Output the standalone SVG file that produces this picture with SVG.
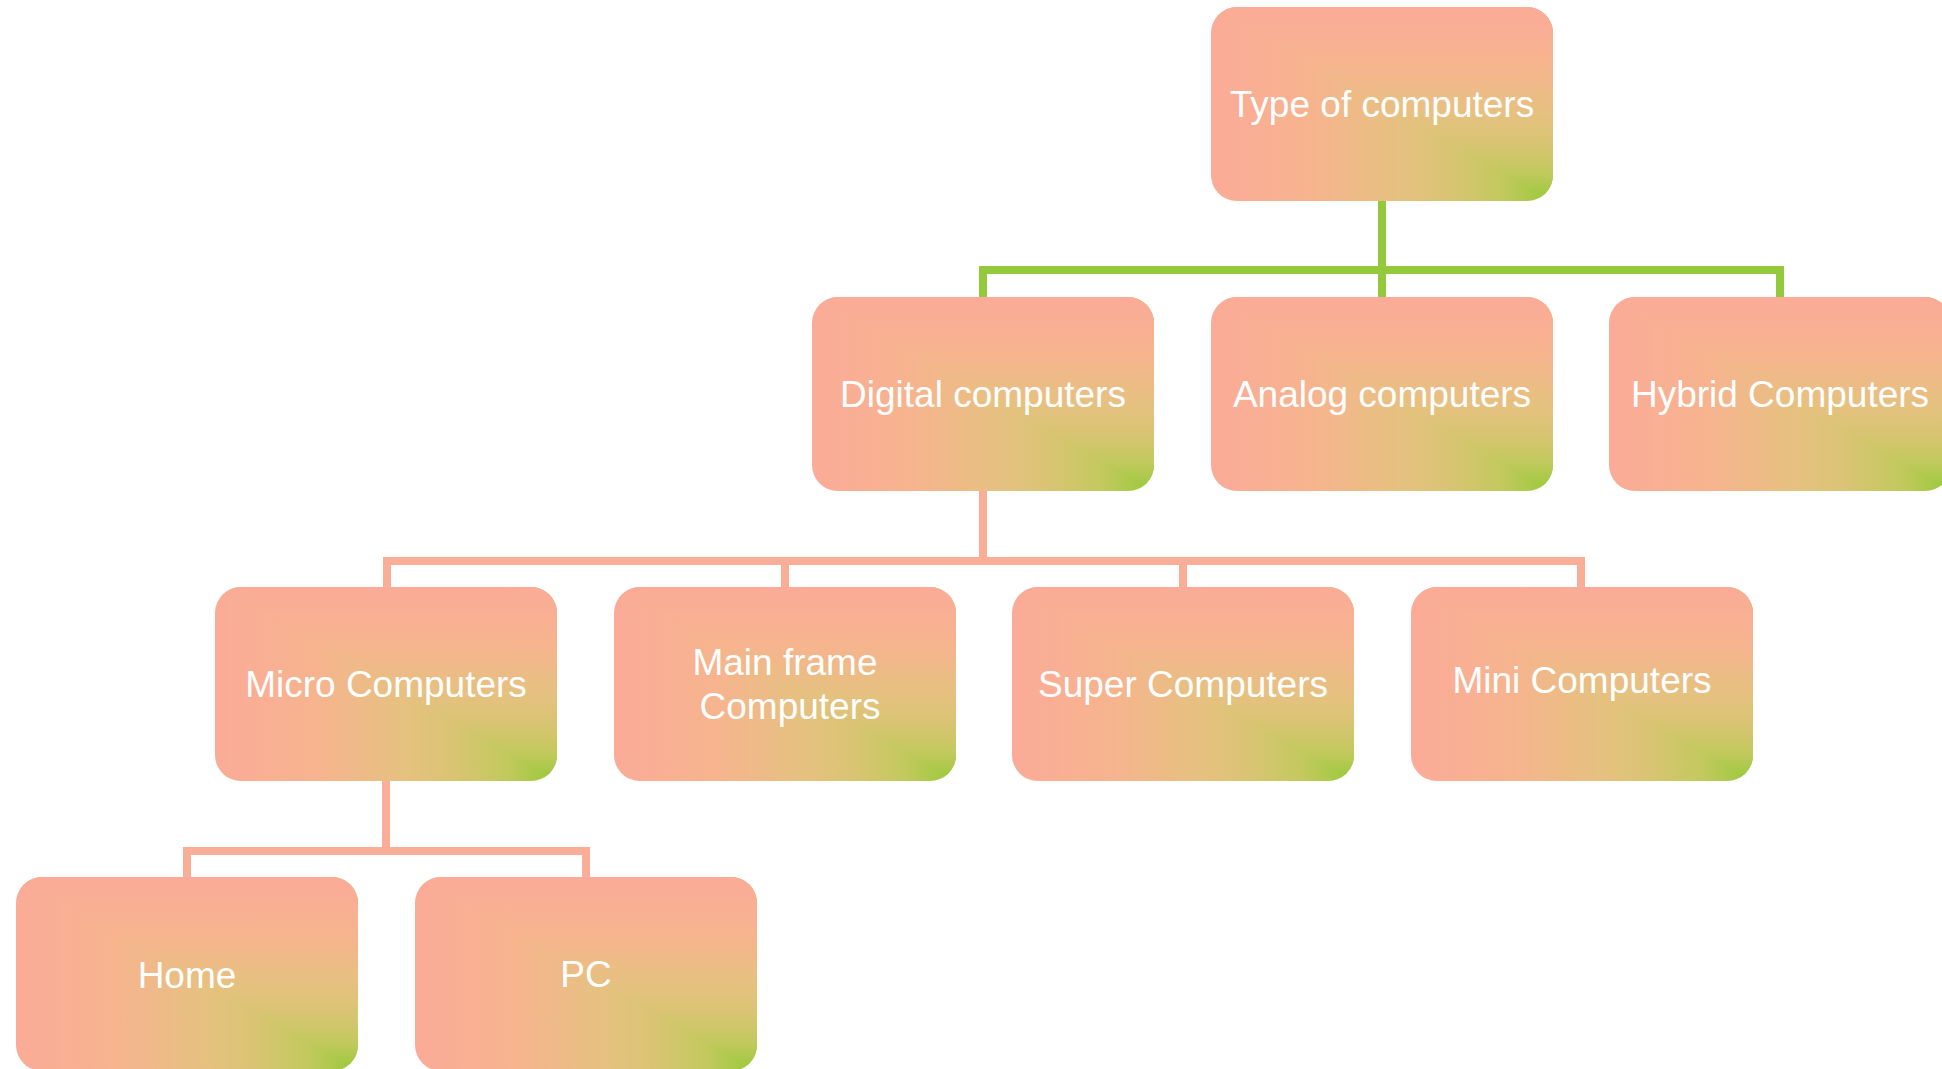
<svg xmlns="http://www.w3.org/2000/svg" xmlns:xlink="http://www.w3.org/1999/xlink" width="1942" height="1069" viewBox="0 0 1942 1069">
  <style>
    .label { font-family: "Liberation Sans", Arial, sans-serif; font-size: 37px; fill: #ffffff; text-anchor: middle; }
    .link-green { fill: none; stroke: #94C93C; stroke-width: 8; stroke-linejoin: miter; }
    .link-pink { fill: none; stroke: #FAAE98; stroke-width: 8; stroke-linejoin: miter; }
  </style>
  <defs>
    <!-- Box fill: salmon along the top and left edges, fading to green in the bottom-right corner -->
    <linearGradient id="gradH" x1="0" y1="0" x2="1" y2="0">
      <stop offset="0" stop-color="#FBAB98"/>
      <stop offset="0.3" stop-color="#F6B48E"/>
      <stop offset="0.55" stop-color="#E6C180"/>
      <stop offset="0.7" stop-color="#D9C473"/>
      <stop offset="0.85" stop-color="#C3C95E"/>
      <stop offset="1" stop-color="#98C93A"/>
    </linearGradient>
    <linearGradient id="gradV" x1="0" y1="0" x2="0" y2="1">
      <stop offset="0" stop-color="#FBAB98"/>
      <stop offset="0.3" stop-color="#F6B48E"/>
      <stop offset="0.55" stop-color="#E6C180"/>
      <stop offset="0.7" stop-color="#D9C473"/>
      <stop offset="0.85" stop-color="#C3C95E"/>
      <stop offset="1" stop-color="#98C93A"/>
    </linearGradient>
    <clipPath id="boxClip">
      <rect x="0" y="0" width="342" height="194" rx="26" ry="26"/>
    </clipPath>
    <g id="box" clip-path="url(#boxClip)">
      <rect x="0" y="0" width="342" height="194" fill="url(#gradH)"/>
      <polygon points="0,0 342,0 342,194" fill="url(#gradV)"/>
    </g>
  </defs>

  <rect width="1942" height="1069" fill="#ffffff"/>

  <!-- connectors -->
  <g id="connectors">
    <path class="link-green" d="M1382,201 V297"/>
    <path class="link-green" d="M983,297 V270 H1780 V297"/>
    <path class="link-pink" d="M983,491 V561"/>
    <path class="link-pink" d="M387,587 V561 H1581 V587"/>
    <path class="link-pink" d="M785,561 V587"/>
    <path class="link-pink" d="M1183,561 V587"/>
    <path class="link-pink" d="M386,781 V851"/>
    <path class="link-pink" d="M187,877 V851 H586 V877"/>
  </g>

  <!-- level 1 -->
  <g id="node-types" transform="translate(1211,7)">
    <use xlink:href="#box" href="#box"/>
    <text class="label" x="171" y="110">Type of computers</text>
  </g>

  <!-- level 2 -->
  <g id="node-digital" transform="translate(812,297)">
    <use xlink:href="#box" href="#box"/>
    <text class="label" x="171" y="110">Digital computers</text>
  </g>
  <g id="node-analog" transform="translate(1211,297)">
    <use xlink:href="#box" href="#box"/>
    <text class="label" x="171" y="110">Analog computers</text>
  </g>
  <g id="node-hybrid" transform="translate(1609,297)">
    <use xlink:href="#box" href="#box"/>
    <text class="label" x="171" y="110">Hybrid Computers</text>
  </g>

  <!-- level 3 -->
  <g id="node-micro" transform="translate(215,587)">
    <use xlink:href="#box" href="#box"/>
    <text class="label" x="171" y="110">Micro Computers</text>
  </g>
  <g id="node-mainframe" transform="translate(614,587)">
    <use xlink:href="#box" href="#box"/>
    <text class="label" x="171" y="88">Main frame</text>
    <text class="label" x="176" y="132">Computers</text>
  </g>
  <g id="node-super" transform="translate(1012,587)">
    <use xlink:href="#box" href="#box"/>
    <text class="label" x="171" y="110">Super Computers</text>
  </g>
  <g id="node-mini" transform="translate(1411,587)">
    <use xlink:href="#box" href="#box"/>
    <text class="label" x="171" y="106">Mini Computers</text>
  </g>

  <!-- level 4 -->
  <g id="node-home" transform="translate(16,877)">
    <use xlink:href="#box" href="#box"/>
    <text class="label" x="171" y="111">Home</text>
  </g>
  <g id="node-pc" transform="translate(415,877)">
    <use xlink:href="#box" href="#box"/>
    <text class="label" x="171" y="110">PC</text>
  </g>
</svg>
